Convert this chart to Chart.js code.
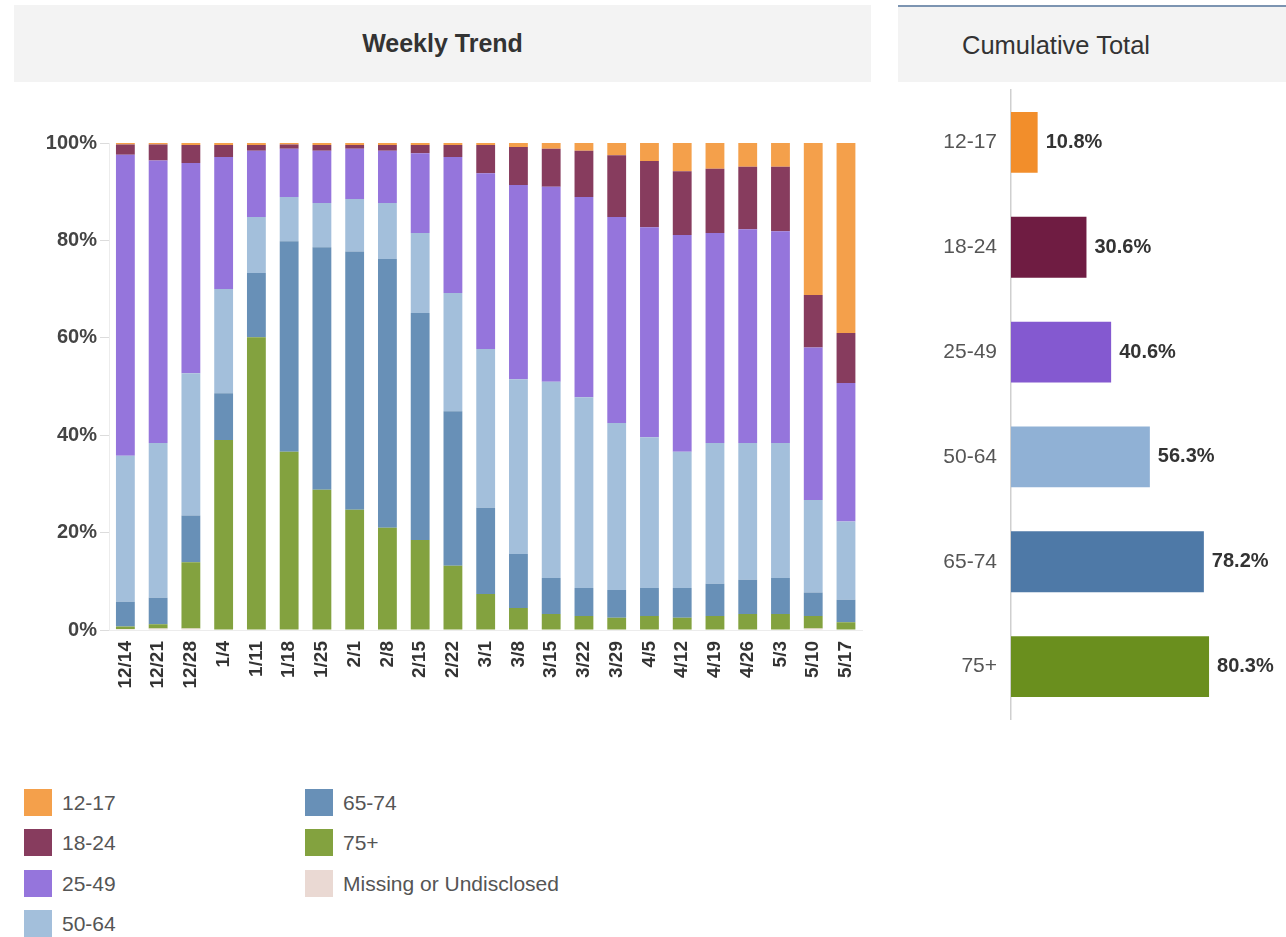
<!DOCTYPE html>
<html><head><meta charset="utf-8">
<script src="https://cdn.jsdelivr.net/npm/chart.js@4.4.1/dist/chart.umd.min.js"></script>
<style>
html,body{margin:0;padding:0;background:#fff;width:1286px;height:937px;overflow:hidden;font-family:"Liberation Sans",Arial,sans-serif;}
.hdr{position:absolute;background:#f3f3f3;}
#h1{left:14px;top:5px;width:857px;height:77px;}
#h1 span{position:absolute;left:0;right:0;top:0;line-height:77px;text-align:center;font-weight:bold;font-size:25px;color:#333;}
#h2{left:898px;top:5px;width:388px;height:75px;border-top:2px solid #7c94b1;}
#h2 span{position:absolute;left:64px;top:0;line-height:77px;font-size:25.5px;color:#333;}
#c1wrap{position:absolute;left:0;top:90px;width:880px;height:640px;}
#c2wrap{position:absolute;left:880px;top:50px;width:406px;height:709px;}
.lg{position:absolute;height:28px;}
.lg i{position:absolute;left:0;top:0;width:28px;height:27px;}
.lg b{position:absolute;left:38px;top:0;line-height:28px;font-weight:normal;font-size:21px;color:#555;white-space:nowrap;}
</style></head>
<body>
<div class="hdr" id="h1"><span>Weekly Trend</span></div>
<div class="hdr" id="h2"><span>Cumulative Total</span></div>
<div id="c1wrap"><canvas id="c1" width="880" height="640"></canvas></div>
<div id="c2wrap"><canvas id="c2" width="406" height="709"></canvas></div>
<div id="legend"></div>
<script>
// ---- Weekly Trend data (share of week, %) ----
const weeks = ['12/14','12/21','12/28','1/4','1/11','1/18','1/25','2/1','2/8','2/15','2/22','3/1','3/8','3/15','3/22','3/29','4/5','4/12','4/19','4/26','5/3','5/10','5/17'];
const age12_17 = [0.3,0.3,0.4,0.4,0.4,0.3,0.4,0.4,0.4,0.4,0.4,0.4,0.8,1.2,1.6,2.5,3.7,5.8,5.3,4.9,4.9,31.2,39.0];
const age18_24 = [2.1,3.3,3.7,2.5,1.2,0.9,1.2,0.8,1.2,1.7,2.5,5.8,7.8,7.8,9.5,12.7,13.6,13.1,13.2,12.8,13.2,10.8,10.3];
const age25_49 = [61.8,58.0,43.2,27.1,13.6,9.9,10.7,10.3,10.7,16.4,27.9,36.1,39.9,40.0,41.1,42.3,43.1,44.5,43.1,43.9,43.5,31.3,28.4];
const age50_64 = [30.0,31.8,29.2,21.4,11.5,9.1,9.1,10.8,11.5,16.4,24.3,32.6,35.9,40.3,39.2,34.3,31.0,28.0,28.9,28.1,27.7,19.0,16.1];
const age65_74 = [5.1,5.4,9.6,9.6,13.2,43.2,49.8,53.0,55.2,46.6,31.7,17.7,11.1,7.4,5.7,5.7,5.7,6.1,6.6,7.0,7.4,4.8,4.6];
const age75p   = [0.5,0.9,13.6,38.9,60.0,36.5,28.7,24.6,20.9,18.4,13.1,7.3,4.4,3.2,2.8,2.4,2.8,2.4,2.8,3.2,3.2,2.6,1.5];
const ageMissing = [0.2,0.3,0.3,0.1,0.1,0.1,0.1,0.1,0.1,0.1,0.1,0.1,0.1,0.1,0.1,0.1,0.1,0.1,0.1,0.1,0.1,0.3,0.1];
const yTicks = [0,20,40,60,80,100];

// ---- Cumulative Total data ----
const groups = ['12-17','18-24','25-49','50-64','65-74','75+'];
const cumulative = [10.8,30.6,40.6,56.3,78.2,80.3];

const legendNames = ['12-17','18-24','25-49','50-64','65-74','75+','Missing or Undisclosed'];
const legendColors = ['#f4a04b','#873c5e','#9575dc','#a3bfdb','#6890b7','#83a23f','#ead9d3'];
const cumColors = ['#f28e2b','#6f1c42','#8459d0','#90b1d5','#4e79a7','#6a8f1e'];

const series = [age12_17, age18_24, age25_49, age50_64, age65_74, age75p, ageMissing];

// stacking bottom -> top: Missing, 75+, 65-74, 50-64, 25-49, 18-24, 12-17
const order = [6,5,4,3,2,1,0];
const ds1 = order.map(i => ({
  label: legendNames[i], data: series[i], backgroundColor: legendColors[i],
  borderWidth: 0, categoryPercentage: 1, barPercentage: 0.575, stack: 's'
}));

new Chart(document.getElementById('c1'), {
  type: 'bar',
  data: { labels: weeks, datasets: ds1 },
  options: {
    responsive: false, animation: false,
    layout: { padding: { left: 43, right: 10, top: 53, bottom: 0 } },
    plugins: { legend: { display: false }, tooltip: { enabled: false } },
    scales: {
      x: {
        stacked: true,
        grid: { display: false, drawTicks: false },
        border: { display: true, color: '#ececec' },
        ticks: { autoSkip: false, minRotation: 90, maxRotation: 90, padding: 11,
                 color: '#333', font: { family: 'Liberation Sans', size: 19, weight: 'bold' } },
        afterFit: s => { s.height = 100; }
      },
      y: {
        stacked: true, min: 0, max: 100,
        afterBuildTicks: s => { s.ticks = yTicks.map(v => ({ value: v })); },
        grid: { drawOnChartArea: false, drawTicks: true, tickLength: 9, color: '#dcdcdc' },
        border: { display: true, color: '#ececec' },
        ticks: { padding: 3, color: '#444', callback: v => v + '%',
                 font: { family: 'Liberation Sans', size: 20, weight: 'bold' } },
        afterFit: s => { s.width = 66; }
      }
    }
  }
});

const valueLabels = {
  id: 'valueLabels',
  afterDatasetsDraw(chart) {
    const ctx = chart.ctx;
    const meta = chart.getDatasetMeta(0);
    ctx.save();
    ctx.font = 'bold 20px "Liberation Sans", Arial, sans-serif';
    ctx.fillStyle = '#333';
    ctx.textAlign = 'left';
    ctx.textBaseline = 'middle';
    meta.data.forEach((bar, i) => {
      ctx.fillText(cumulative[i].toFixed(1) + '%', bar.x + 8, bar.y);
    });
    ctx.restore();
  }
};

new Chart(document.getElementById('c2'), {
  type: 'bar',
  data: { labels: groups, datasets: [{ data: cumulative, backgroundColor: cumColors, borderWidth: 0,
          categoryPercentage: 1, barPercentage: 0.58 }] },
  options: {
    indexAxis: 'y', responsive: false, animation: false,
    layout: { padding: { left: 0, right: 0, top: 40, bottom: 40 } },
    plugins: { legend: { display: false }, tooltip: { enabled: false } },
    scales: {
      x: { display: false, min: 0, max: 111.5 },
      y: {
        grid: { display: false, drawTicks: false },
        border: { display: true, color: '#cfcfcf', width: 1.5 },
        ticks: { padding: 14, color: '#555', font: { family: 'Liberation Sans', size: 21 } },
        afterFit: s => { s.width = 131; }
      }
    }
  },
  plugins: [valueLabels]
});

// ---- legend (two columns, column-major) ----
const lg = document.getElementById('legend');
const colX = [24, 305];
const rowY = [789, 829, 870, 910];
legendNames.forEach((name, i) => {
  const col = i < 4 ? 0 : 1;
  const row = i < 4 ? i : i - 4;
  const d = document.createElement('div');
  d.className = 'lg';
  d.style.left = colX[col] + 'px';
  d.style.top = rowY[row] + 'px';
  const sq = document.createElement('i');
  sq.style.background = legendColors[i];
  const t = document.createElement('b');
  t.textContent = name;
  d.appendChild(sq); d.appendChild(t);
  lg.appendChild(d);
});
</script>
</body></html>
